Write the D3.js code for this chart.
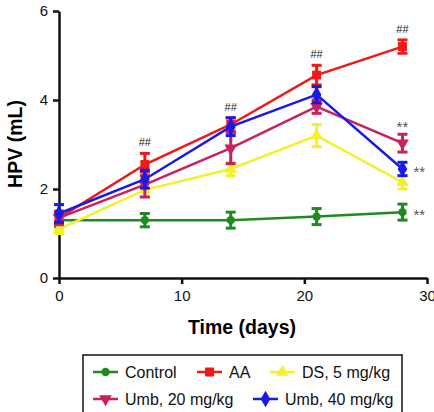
<!DOCTYPE html>
<html>
<head>
<meta charset="utf-8">
<script src="https://cdn.jsdelivr.net/npm/d3@7"></script>
<style>
body { margin: 0; background: #fff; }
svg { font-family: Arial, "Liberation Sans", sans-serif; }
.axis path, .axis line { stroke: #111; stroke-width: 2.5; }
.axis text { font-size: 15px; fill: #111; }
</style>
</head>
<body>
<div id="chart"></div>
<script>
var days = [0, 7, 14, 21, 28];

var control = [1.30, 1.30, 1.30, 1.38, 1.48];
var controlErr = [0.15, 0.15, 0.18, 0.18, 0.18];
var aa = [1.35, 2.55, 3.45, 4.56, 5.20];
var aaErr = [0.15, 0.25, 0.15, 0.22, 0.15];
var ds5 = [1.10, 1.98, 2.45, 3.20, 2.15];
var ds5Err = [0.10, 0.15, 0.15, 0.25, 0.15];
var umb20 = [1.35, 2.10, 2.92, 3.85, 3.03];
var umb20Err = [0.15, 0.28, 0.35, 0.15, 0.20];
var umb40 = [1.45, 2.22, 3.40, 4.12, 2.45];
var umb40Err = [0.20, 0.20, 0.20, 0.18, 0.15];

var seriesNames = ["Control", "AA", "DS, 5 mg/kg", "Umb, 20 mg/kg", "Umb, 40 mg/kg"];
var xTicks = [0, 10, 20, 30];
var yTicks = [0, 2, 4, 6];

// significance marks: [series index, day index, label, position]
var marks = [
  [1, 1, "##", "top"], [1, 2, "##", "top"], [1, 3, "##", "top"], [1, 4, "##", "top"],
  [3, 4, "**", "top"], [4, 4, "**", "right"], [0, 4, "**", "right"]
];

var series = [
  {name: seriesNames[0], v: control, e: controlErr, color: "#1f8a1f", sym: d3.symbolCircle, size: 55},
  {name: seriesNames[1], v: aa, e: aaErr, color: "#f01818", sym: d3.symbolSquare, size: 80},
  {name: seriesNames[2], v: ds5, e: ds5Err, color: "#f4f02c", sym: d3.symbolTriangle, size: 70, rot: 0},
  {name: seriesNames[3], v: umb20, e: umb20Err, color: "#c82060", sym: d3.symbolTriangle, size: 70, rot: 180},
  {name: seriesNames[4], v: umb40, e: umb40Err, color: "#1a1ae6", sym: d3.symbolDiamond, size: 80}
];

var W = 434, H = 412;
var svg = d3.select("#chart").append("svg")
  .attr("width", W).attr("height", H);

var x = d3.scaleLinear().domain([0, 30]).range([59, 427]);
var y = d3.scaleLinear().domain([0, 6]).range([278, 11]);

svg.append("g")
  .attr("class", "axis")
  .attr("transform", "translate(0," + y(0) + ")")
  .call(d3.axisBottom(x).tickValues(xTicks).tickFormat(d3.format("d"))
    .tickSize(6).tickSizeOuter(0).tickPadding(6));

svg.append("g")
  .attr("class", "axis")
  .attr("transform", "translate(" + x(0) + ",0)")
  .call(d3.axisLeft(y).tickValues(yTicks).tickFormat(d3.format("d"))
    .tickSize(6).tickSizeOuter(0).tickPadding(5));

svg.append("text")
  .attr("x", 242).attr("y", 334)
  .attr("text-anchor", "middle")
  .style("font-size", "19.5px").style("font-weight", "bold")
  .text("Time (days)");

svg.append("text")
  .attr("transform", "translate(22,144) rotate(-90)")
  .attr("text-anchor", "middle")
  .style("font-size", "19.5px").style("font-weight", "bold")
  .text("HPV (mL)");

var line = d3.line()
  .x(function(d, i) { return x(days[i]); })
  .y(function(d) { return y(d); });

series.forEach(function(s) {
  var g = svg.append("g");
  g.append("path")
    .datum(s.v)
    .attr("d", line)
    .attr("fill", "none")
    .attr("stroke", s.color)
    .attr("stroke-width", 2.5);

  s.v.forEach(function(v, i) {
    var cx = x(days[i]);
    g.append("line")
      .attr("x1", cx).attr("x2", cx)
      .attr("y1", y(v - s.e[i])).attr("y2", y(v + s.e[i]))
      .attr("stroke", s.color).attr("stroke-width", 3);
    [v - s.e[i], v + s.e[i]].forEach(function(c) {
      g.append("line")
        .attr("x1", cx - 5).attr("x2", cx + 5)
        .attr("y1", y(c)).attr("y2", y(c))
        .attr("stroke", s.color).attr("stroke-width", 3);
    });
    g.append("path")
      .attr("d", d3.symbol().type(s.sym).size(s.size)())
      .attr("transform", "translate(" + cx + "," + y(v) + ") rotate(" + (s.rot || 0) + ")")
      .attr("fill", s.color);
  });
});

marks.forEach(function(m) {
  var s = series[m[0]], i = m[1];
  var cx = x(days[i]), v = s.v[i];
  var isHash = m[2] == "##";
  var t = svg.append("text")
    .style("font-size", isHash ? "11px" : "15px")
    .attr("fill", isHash ? "#222" : "#555")
    .text(m[2]);
  if (m[3] == "top") {
    t.attr("x", cx).attr("y", y(v + s.e[i]) - (isHash ? 7 : 2)).attr("text-anchor", "middle");
  } else {
    t.attr("x", cx + 11).attr("y", y(v) + 8).attr("text-anchor", "start");
  }
});

// legend
var lg = svg.append("g");
lg.append("rect")
  .attr("x", 83).attr("y", 355).attr("width", 319).attr("height", 70)
  .attr("fill", "#fff").attr("stroke", "#111").attr("stroke-width", 1.5);

var legendPos = [[93, 372], [197, 372], [270, 372], [93, 399], [253, 399]];
series.forEach(function(s, k) {
  var p = legendPos[k];
  lg.append("line")
    .attr("x1", p[0]).attr("x2", p[0] + 25)
    .attr("y1", p[1]).attr("y2", p[1])
    .attr("stroke", s.color).attr("stroke-width", 2.5);
  lg.append("path")
    .attr("d", d3.symbol().type(s.sym).size(s.size)())
    .attr("transform", "translate(" + (p[0] + 12.5) + "," + p[1] + ") rotate(" + (s.rot || 0) + ")")
    .attr("fill", s.color);
  lg.append("text")
    .attr("x", p[0] + 32).attr("y", p[1] + 5.5)
    .style("font-size", "16px").attr("fill", "#111")
    .text(s.name);
});
</script>
</body>
</html>
